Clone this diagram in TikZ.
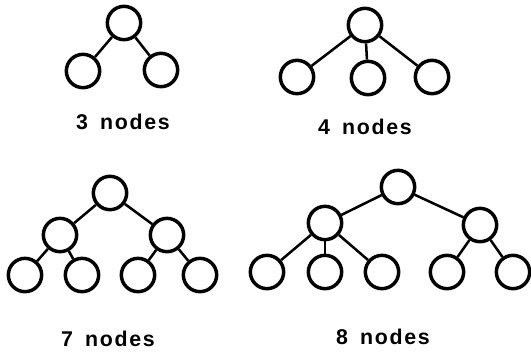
\documentclass[tikz,border=0pt]{standalone}
\usepackage{fontspec}
\setmainfont{Liberation Sans}[LetterSpace=8]
\begin{document}
\begin{tikzpicture}[x=0.75pt,y=-0.75pt,
  tn/.style={circle,draw,line width=2.6pt,minimum size=25pt,inner sep=0pt},
  ed/.style={line width=1.9pt},
  lbl/.style={font=\fontsize{16pt}{18pt}\selectfont\bfseries,inner sep=0pt}]
\useasboundingbox (0,0) rectangle (531,351);
% 3 nodes
\node[tn] (a0) at (124,23) {};
\node[tn] (a1) at (83,71) {};
\node[tn] (a2) at (161,70) {};
\draw[ed] (a0) -- (a1); \draw[ed] (a0) -- (a2);
\node[lbl] (la) at (123,122) {3\hspace{9pt}nodes};
% 4 nodes
\node[tn] (b0) at (365,25) {};
\node[tn] (b1) at (297,77) {};
\node[tn] (b2) at (368,78) {};
\node[tn] (b3) at (432,77) {};
\draw[ed] (b0) -- (b1); \draw[ed] (b0) -- (b2); \draw[ed] (b0) -- (b3);
\node[lbl] (lb) at (365,127) {4\hspace{9pt}nodes};
% 7 nodes
\node[tn] (c0) at (110,193) {};
\node[tn] (c1) at (60,235) {};
\node[tn] (c2) at (167,235) {};
\node[tn] (c3) at (25,275) {};
\node[tn] (c4) at (82,275) {};
\node[tn] (c5) at (138,275) {};
\node[tn] (c6) at (200,275) {};
\draw[ed] (c0) -- (c1); \draw[ed] (c0) -- (c2);
\draw[ed] (c1) -- (c3); \draw[ed] (c1) -- (c4);
\draw[ed] (c2) -- (c5); \draw[ed] (c2) -- (c6);
\node[lbl] (lc) at (108,339) {7\hspace{9pt}nodes};
% 8 nodes
\node[tn] (d0) at (398,187) {};
\node[tn] (d1) at (325,223) {};
\node[tn] (d2) at (480,225) {};
\node[tn] (d3) at (267,272) {};
\node[tn] (d4) at (325,272) {};
\node[tn] (d5) at (382,272) {};
\node[tn] (d6) at (447,272) {};
\node[tn] (d7) at (513,272) {};
\draw[ed] (d0) -- (d1); \draw[ed] (d0) -- (d2);
\draw[ed] (d1) -- (d3); \draw[ed] (d1) -- (d4); \draw[ed] (d1) -- (d5);
\draw[ed] (d2) -- (d6); \draw[ed] (d2) -- (d7);
\node[lbl] (ld) at (383,337) {8\hspace{9pt}nodes};
\end{tikzpicture}
\end{document}
